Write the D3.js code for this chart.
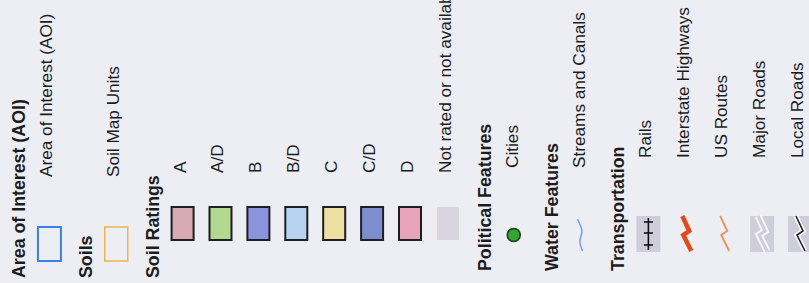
<!DOCTYPE html>
<html lang="en">
<head>
<meta charset="UTF-8" />
<title>Soil map legend</title>
<script src="https://d3js.org/d3.v7.min.js"></script>
<style>
  html, body { margin: 0; padding: 0; background: #eceef4; }
  svg { display: block; }
  text { font-family: "Liberation Sans", Arial, sans-serif; fill: #1c1c1c; }
</style>
</head>
<body>
<svg width="809" height="283"></svg>
<script>
// legend content
const sectionTitles = ["Area of Interest (AOI)", "Soils", "Soil Ratings", "Political Features", "Water Features", "Transportation"];
const aoiItems = ["Area of Interest (AOI)"];
const soilItems = ["Soil Map Units"];
const ratingLabels = ["A", "A/D", "B", "B/D", "C", "C/D", "D", "Not rated or not available"];
const ratingColors = ["#d8aab3", "#b3d890", "#8a94de", "#b8d3f0", "#eee0a2", "#7d8dcd", "#e6a3b9", "#d8d5df"];
const politicalItems = ["Cities"];
const waterItems = ["Streams and Canals"];
const transportItems = ["Rails", "Interstate Highways", "US Routes", "Major Roads", "Local Roads"];
const transportSymbols = ["rail", "interstate", "usroute", "major", "local"];

// build the rows in order
const sectionItems = [
  aoiItems.map(t => ({ text: t, sym: "aoi" })),
  soilItems.map(t => ({ text: t, sym: "soil" })),
  ratingLabels.map((t, i) => ({ text: t, sym: "rating", color: ratingColors[i] })),
  politicalItems.map(t => ({ text: t, sym: "city" })),
  waterItems.map(t => ({ text: t, sym: "stream" })),
  transportItems.map((t, i) => ({ text: t, sym: transportSymbols[i] }))
];

const rows = [];
sectionTitles.forEach((title, s) => {
  rows.push({ head: true, text: title, section: s });
  sectionItems[s].forEach(it => rows.push(Object.assign({ head: false, section: s }, it)));
});

// cumulative spacing: header->item, item->item, item->header
let acc = 0;
rows.forEach((r, i) => {
  if (i > 0) {
    const prev = rows[i - 1];
    acc += r.head ? 40 : (prev.head ? 27 : 38);
  }
  r.pos = acc;
});

const W = 809, H = 283;
const yRow = d3.scaleLinear().domain([0, acc]).range([25, 803]);
const headX = [5, 5, 5, 12, 12, 12];
const labelX = [106, 106, 110, 115, 115, 125];

// legend is drawn upright, then turned a quarter anticlockwise
const svg = d3.select("svg");
const g = svg.append("g").attr("transform", `translate(0,${H}) rotate(-90)`);

const rowG = g.selectAll("g.row").data(rows).join("g").attr("class", "row");

rowG.append("text")
  .attr("x", d => d.head ? headX[d.section] : labelX[d.section])
  .attr("y", d => yRow(d.pos))
  .attr("font-size", d => d.head ? 17.8 : 17.2)
  .attr("font-weight", d => d.head ? "bold" : "normal")
  .text(d => d.text);

const line = d3.line();
const zig = [[36, -4], [21, 3], [17, -3], [1, 5]];

rowG.filter(d => !d.head).each(function (d) {
  const c = yRow(d.pos) - 3;
  const s = d3.select(this).append("g");
  if (d.sym === "aoi" || d.sym === "soil") {
    s.append("rect").attr("x", 22).attr("y", c - 11).attr("width", 34).attr("height", 23)
      .attr("fill", "none")
      .attr("stroke", d.sym === "aoi" ? "#3b80e4" : "#e9b84a")
      .attr("stroke-width", d.sym === "aoi" ? 2 : 1.5);
  } else if (d.sym === "rating") {
    const na = d.text.startsWith("Not");
    s.append("rect").attr("x", 43).attr("y", c - 11).attr("width", 33).attr("height", 22)
      .attr("fill", d.color)
      .attr("stroke", na ? "none" : "#1e1e22")
      .attr("stroke-width", 2);
  } else if (d.sym === "city") {
    s.append("circle").attr("cx", 48).attr("cy", c - 1).attr("r", 6.5)
      .attr("fill", "#34a532").attr("stroke", "#1f3a1c").attr("stroke-width", 1.6);
  } else if (d.sym === "stream") {
    const pts = [[33, -3], [24, 1], [19, 2], [11, -2], [1, 2]];
    s.append("path").attr("transform", `translate(31,${c - 1})`)
      .attr("d", d3.line().curve(d3.curveBasis)(pts))
      .attr("fill", "none").attr("stroke", "#7aa2e6").attr("stroke-width", 1.6);
  } else {
    const t = s.append("g").attr("transform", `translate(31,${c})`);
    if (d.sym === "rail" || d.sym === "major" || d.sym === "local") {
      t.append("rect").attr("x", 0).attr("y", -12).attr("width", 36).attr("height", 24).attr("fill", "#cfcdd9");
    }
    if (d.sym === "rail") {
      t.append("path").attr("d", line([[2, 0], [34, 0]])).attr("stroke", "#111").attr("stroke-width", 1.6);
      [7, 19, 30].forEach(u => {
        t.append("path").attr("d", line([[u, -4.5], [u, 4.5]])).attr("stroke", "#111").attr("stroke-width", 1.6);
      });
    } else if (d.sym === "interstate") {
      t.append("path").attr("d", line(zig)).attr("fill", "none")
        .attr("stroke", "#e4491c").attr("stroke-width", 4.5);
    } else if (d.sym === "usroute") {
      t.append("path").attr("d", line(zig)).attr("fill", "none")
        .attr("stroke", "#ef8e5c").attr("stroke-width", 1.8);
    } else if (d.sym === "major") {
      t.append("path").attr("d", line(zig)).attr("fill", "none")
        .attr("stroke", "#f6f6fa").attr("stroke-width", 7);
      t.append("path").attr("d", line(zig)).attr("fill", "none")
        .attr("stroke", "#cfcdd9").attr("stroke-width", 3);
    } else if (d.sym === "local") {
      t.append("path").attr("d", line(zig)).attr("fill", "none")
        .attr("stroke", "#f6f6fa").attr("stroke-width", 5);
      t.append("path").attr("d", line(zig)).attr("fill", "none")
        .attr("stroke", "#222").attr("stroke-width", 1.6);
    }
  }
});
</script>
</body>
</html>
